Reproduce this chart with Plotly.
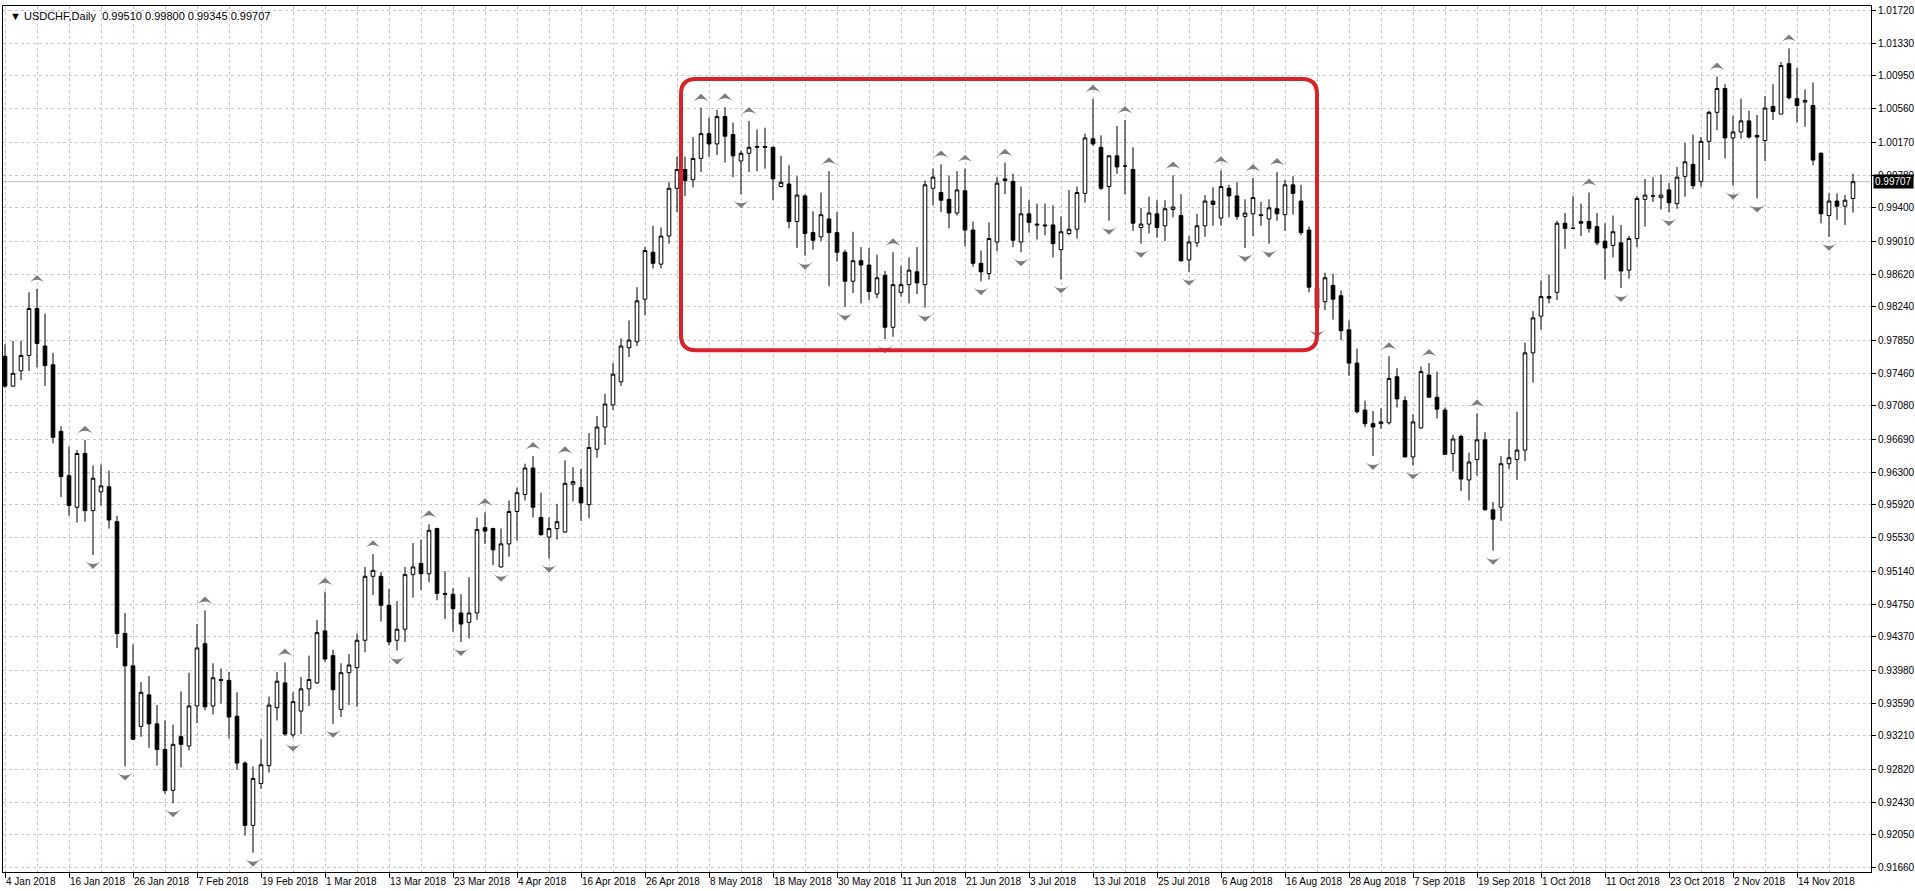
import plotly.graph_objects as go

symbol = "USDCHF,Daily"

# daily bars, 4 Jan 2018 .. 23 Nov 2018 (one value per trading day)
opens = [
    0.9766, 0.9731, 0.9749, 0.9767, 0.9822, 0.9778, 0.9756, 0.9678, 0.9626, 0.9589,
    0.9652, 0.9585, 0.9607, 0.9613, 0.9572, 0.9441, 0.9403, 0.9332, 0.9369, 0.9335,
    0.9305, 0.9257, 0.9320, 0.9309, 0.9356, 0.9429, 0.9356, 0.9387, 0.9386, 0.9344,
    0.9289, 0.9216, 0.9265, 0.9286, 0.9354, 0.9383, 0.9322, 0.9350, 0.9376, 0.9383,
    0.9444, 0.9415, 0.9352, 0.9395, 0.9401, 0.9433, 0.9508, 0.9508, 0.9474, 0.9433,
    0.9446, 0.9510, 0.9523, 0.9511, 0.9564, 0.9488, 0.9487, 0.9465, 0.9454, 0.9465,
    0.9565, 0.9564, 0.9519, 0.9546, 0.9584, 0.9604, 0.9635, 0.9577, 0.9554, 0.9564,
    0.9560, 0.9616, 0.9612, 0.9592, 0.9657, 0.9683, 0.9709, 0.9736, 0.9776, 0.9783,
    0.9833, 0.9888, 0.9874, 0.9907, 0.9963, 0.9985, 0.9973, 0.9998, 1.0027, 1.0015,
    1.0047, 1.0026, 0.9995, 1.0004, 1.0011, 1.0012, 1.0011, 0.9965, 0.9968, 0.9924,
    0.9954, 0.9911, 0.9906, 0.9927, 0.9911, 0.9888, 0.9854, 0.9878, 0.9873, 0.9839,
    0.9861, 0.9800, 0.9841, 0.9850, 0.9865, 0.9850, 0.9963, 0.9958, 0.9950, 0.9934,
    0.9960, 0.9914, 0.9875, 0.9863, 0.9900, 0.9974, 0.9971, 0.9900, 0.9933, 0.9921,
    0.9920, 0.9920, 0.9891, 0.9910, 0.9915, 0.9957, 1.0021, 1.0011, 0.9965, 1.0001,
    0.9989, 0.9985, 0.9917, 0.9921, 0.9933, 0.9919, 0.9938, 0.9931, 0.9879, 0.9899,
    0.9919, 0.9948, 0.9928, 0.9963, 0.9954, 0.9930, 0.9933, 0.9932, 0.9927, 0.9939,
    0.9932, 0.9967, 0.9948, 0.9914, 0.9846, 0.9830, 0.9849, 0.9837, 0.9797, 0.9758,
    0.9703, 0.9687, 0.9687, 0.9688, 0.9742, 0.9714, 0.9648, 0.9682, 0.9744, 0.9718,
    0.9703, 0.9652, 0.9672, 0.9621, 0.9645, 0.9668, 0.9586, 0.9589, 0.9640, 0.9645,
    0.9656, 0.9770, 0.9813, 0.9834, 0.9841, 0.9922, 0.9916, 0.9924, 0.9924, 0.9918,
    0.9901, 0.9896, 0.9899, 0.9867, 0.9904, 0.9950, 0.9954, 0.9952, 0.9961, 0.9945,
    0.9977, 0.9991, 0.9971, 1.0018, 1.0052, 1.0080, 1.0022, 1.0029, 1.0042, 1.0025,
    1.0019, 1.0059, 1.0050, 1.0109, 1.0068, 1.0064, 1.0060, 1.0004, 0.9931, 0.9948,
    0.9942, 0.99510,
]
highs = [
    0.9780, 0.9784, 0.9784, 0.9841, 0.9845, 0.9816, 0.9770, 0.9684, 0.9660, 0.9656,
    0.9668, 0.9638, 0.9639, 0.9632, 0.9579, 0.9465, 0.9428, 0.9384, 0.9391, 0.9357,
    0.9339, 0.9334, 0.9373, 0.9395, 0.9452, 0.9468, 0.9406, 0.9400, 0.9396, 0.9372,
    0.9291, 0.9285, 0.9317, 0.9367, 0.9396, 0.9407, 0.9372, 0.9390, 0.9415, 0.9457,
    0.9490, 0.9422, 0.9406, 0.9417, 0.9441, 0.9519, 0.9534, 0.9513, 0.9493, 0.9479,
    0.9519, 0.9547, 0.9551, 0.9569, 0.9565, 0.9514, 0.9494, 0.9487, 0.9507, 0.9577,
    0.9583, 0.9565, 0.9564, 0.9597, 0.9612, 0.9640, 0.9649, 0.9606, 0.9577, 0.9593,
    0.9644, 0.9636, 0.9634, 0.9676, 0.9696, 0.9722, 0.9758, 0.9787, 0.9808, 0.9847,
    0.9894, 0.9919, 0.9917, 0.9970, 1.0000, 1.0000, 1.0023, 1.00575, 1.0046, 1.0055,
    1.0058, 1.0040, 1.0007, 1.0042, 1.0032, 1.0034, 1.0012, 1.0001, 0.9990, 0.9977,
    0.9956, 0.9936, 0.9958, 0.9983, 0.9935, 0.9891, 0.9912, 0.9894, 0.9893, 0.9885,
    0.9866, 0.9888, 0.9872, 0.9882, 0.9894, 0.9972, 0.9986, 0.9991, 0.9978, 0.9983,
    0.9986, 0.9924, 0.9890, 0.9923, 0.9976, 0.9993, 0.9980, 0.9965, 0.9949, 0.9945,
    0.9945, 0.9943, 0.9930, 0.9961, 0.9965, 1.0027, 1.0068, 1.0025, 1.0002, 1.0036,
    1.0043, 1.0011, 0.9940, 0.9953, 0.9949, 0.9949, 0.9978, 0.9956, 0.9907, 0.9933,
    0.9955, 0.9964, 0.9984, 0.9967, 0.9970, 0.9950, 0.9975, 0.9947, 0.9950, 0.9982,
    0.9973, 0.9977, 0.9967, 0.9918, 0.9850, 0.9864, 0.9863, 0.9843, 0.9808, 0.9775,
    0.9714, 0.9702, 0.9705, 0.9766, 0.9752, 0.9719, 0.9698, 0.9754, 0.9758, 0.9748,
    0.9706, 0.9674, 0.9674, 0.9653, 0.9699, 0.9677, 0.9595, 0.9649, 0.9669, 0.9701,
    0.9782, 0.9819, 0.9855, 0.9862, 0.9925, 0.9934, 0.9954, 0.9945, 0.9958, 0.9934,
    0.9922, 0.9931, 0.9920, 0.9907, 0.9954, 0.9974, 0.9976, 0.9979, 0.9969, 0.9988,
    1.0016, 1.0026, 1.0023, 1.0054, 1.0094, 1.0085, 1.0048, 1.0068, 1.0054, 1.0049,
    1.0071, 1.0085, 1.0111, 1.0127, 1.0104, 1.0079, 1.0087, 1.0005, 0.9957, 0.9957,
    0.9955, 0.99800,
]
lows = [
    0.9729, 0.9730, 0.9738, 0.9749, 0.9753, 0.9731, 0.9664, 0.9601, 0.9579, 0.9571,
    0.9572, 0.9533, 0.9591, 0.9564, 0.9424, 0.9285, 0.9316, 0.9320, 0.9307, 0.9286,
    0.9253, 0.9242, 0.9284, 0.9304, 0.9336, 0.9351, 0.9346, 0.9359, 0.9318, 0.9281,
    0.9204, 0.9184, 0.9259, 0.9278, 0.9339, 0.9321, 0.9319, 0.9323, 0.9356, 0.9382,
    0.9408, 0.9335, 0.9343, 0.9357, 0.9355, 0.9419, 0.9486, 0.9455, 0.9427, 0.9421,
    0.9431, 0.9483, 0.9492, 0.9501, 0.9480, 0.9458, 0.9443, 0.9431, 0.9435, 0.9457,
    0.9546, 0.9521, 0.9518, 0.9531, 0.9550, 0.9597, 0.9577, 0.9555, 0.9529, 0.9551,
    0.9559, 0.9596, 0.9573, 0.9576, 0.9647, 0.9662, 0.9703, 0.9731, 0.9765, 0.9778,
    0.9814, 0.9869, 0.9869, 0.9898, 0.9935, 0.9954, 0.9964, 0.9982, 1.0000, 1.0002,
    0.9993, 0.9976, 0.9956, 0.9982, 0.9983, 0.9986, 0.9949, 0.9964, 0.9916, 0.9893,
    0.9884, 0.9891, 0.9901, 0.9848, 0.9877, 0.9824, 0.9840, 0.9828, 0.9832, 0.9834,
    0.9786, 0.9789, 0.9836, 0.9828, 0.9839, 0.9823, 0.9943, 0.9935, 0.9916, 0.9931,
    0.9895, 0.9871, 0.9854, 0.9856, 0.9889, 0.9956, 0.9894, 0.9888, 0.9911, 0.9903,
    0.9908, 0.9882, 0.9856, 0.9908, 0.9904, 0.9946, 1.0013, 0.9961, 0.9925, 0.9980,
    0.9956, 0.9913, 0.9898, 0.9910, 0.9905, 0.9901, 0.9929, 0.9877, 0.9865, 0.9894,
    0.9906, 0.9919, 0.9919, 0.9929, 0.9926, 0.9893, 0.9907, 0.9919, 0.9898, 0.9925,
    0.9913, 0.9932, 0.9908, 0.9841, 0.9804, 0.9820, 0.9809, 0.9785, 0.9743, 0.9699,
    0.9683, 0.9649, 0.9681, 0.9686, 0.9706, 0.9647, 0.9638, 0.9681, 0.9718, 0.9693,
    0.9650, 0.9631, 0.9608, 0.9597, 0.9626, 0.9585, 0.9538, 0.9573, 0.9634, 0.9621,
    0.9643, 0.9735, 0.9797, 0.9828, 0.9832, 0.9892, 0.9915, 0.9907, 0.9911, 0.9896,
    0.9856, 0.9882, 0.9846, 0.9857, 0.9894, 0.9918, 0.9947, 0.9938, 0.9935, 0.9939,
    0.9953, 0.9962, 0.9965, 0.9996, 1.0031, 0.9998, 0.9966, 1.0021, 1.0021, 0.9951,
    0.9995, 1.0043, 1.0050, 1.0067, 1.0040, 1.0035, 0.9990, 0.9922, 0.9906, 0.9926,
    0.9920, 0.99345,
]
closes = [
    0.9731, 0.9746, 0.9767, 0.9822, 0.9781, 0.9755, 0.9671, 0.9625, 0.9591, 0.9652,
    0.9585, 0.9623, 0.9614, 0.9574, 0.9441, 0.9403, 0.9317, 0.9372, 0.9335, 0.9305,
    0.9257, 0.9311, 0.9311, 0.9356, 0.9424, 0.9355, 0.9389, 0.9386, 0.9343, 0.9289,
    0.9216, 0.9271, 0.9287, 0.9357, 0.9385, 0.9323, 0.9361, 0.9376, 0.9387, 0.9442,
    0.9411, 0.9375, 0.9395, 0.9404, 0.9433, 0.9508, 0.9515, 0.9474, 0.9431, 0.9446,
    0.9510, 0.9519, 0.9511, 0.9562, 0.9488, 0.9487, 0.9470, 0.9452, 0.9465, 0.9563,
    0.9561, 0.9539, 0.9546, 0.9584, 0.9606, 0.9635, 0.9589, 0.9557, 0.9564, 0.9572,
    0.9617, 0.9619, 0.9594, 0.9659, 0.9683, 0.9710, 0.9745, 0.9778, 0.9785, 0.9831,
    0.9890, 0.9875, 0.9907, 0.9963, 0.9985, 0.9972, 0.9998, 1.0027, 1.0015, 1.0047,
    1.0024, 1.0001, 1.0004, 1.0011, 1.0012, 1.0011, 0.9974, 0.9970, 0.9924, 0.9955,
    0.9910, 0.9902, 0.9932, 0.9911, 0.9888, 0.9854, 0.9878, 0.9873, 0.9842, 0.9858,
    0.9800, 0.9850, 0.9850, 0.9867, 0.9852, 0.9967, 0.9976, 0.9949, 0.9934, 0.9961,
    0.9914, 0.9875, 0.9865, 0.9904, 0.9969, 0.9972, 0.9902, 0.9933, 0.9923, 0.9920,
    0.9919, 0.9898, 0.9912, 0.9915, 0.9958, 1.0022, 1.0015, 0.9963, 1.0001, 0.9988,
    0.9989, 0.9922, 0.9921, 0.9934, 0.9917, 0.9939, 0.9941, 0.9878, 0.9900, 0.9919,
    0.9948, 0.9944, 0.9965, 0.9954, 0.9930, 0.9934, 0.9952, 0.9931, 0.9940, 0.9933,
    0.9967, 0.9957, 0.9911, 0.9847, 0.9822, 0.9858, 0.9833, 0.9796, 0.9758, 0.9701,
    0.9687, 0.9683, 0.9689, 0.9740, 0.9716, 0.9648, 0.9689, 0.9748, 0.9718, 0.9704,
    0.9651, 0.9669, 0.9622, 0.9642, 0.9668, 0.9586, 0.9575, 0.9640, 0.9647, 0.9656,
    0.9770, 0.9811, 0.9836, 0.9836, 0.9922, 0.9916, 0.9916, 0.9922, 0.9916, 0.9899,
    0.9893, 0.9912, 0.9866, 0.9904, 0.9951, 0.9955, 0.9954, 0.9955, 0.9946, 0.9976,
    0.9994, 0.9966, 1.0018, 1.0052, 1.0080, 1.0022, 1.0029, 1.0042, 1.0023, 1.0023,
    1.0057, 1.0053, 1.0107, 1.0069, 1.0060, 1.0066, 0.9996, 0.9933, 0.9948, 0.9942,
    0.9949, 0.99707,
]

# bars marked by the fractals indicator
up_fractal_bars = [4, 10, 25, 35, 40, 46, 53, 60, 66, 70, 87, 90, 93, 103, 111, 117,
                   120, 125, 136, 140, 146, 152, 156, 159, 173, 178, 184, 198, 214, 223]
down_fractal_bars = [11, 15, 21, 31, 36, 41, 49, 57, 62, 68, 92, 100, 105, 110, 115, 122,
                     127, 132, 138, 142, 148, 155, 158, 164, 171, 176, 186, 202, 208, 216,
                     219, 228]

date_labels = ["4 Jan 2018", "16 Jan 2018", "26 Jan 2018", "7 Feb 2018", "19 Feb 2018",
               "1 Mar 2018", "13 Mar 2018", "23 Mar 2018", "4 Apr 2018", "16 Apr 2018",
               "26 Apr 2018", "8 May 2018", "18 May 2018", "30 May 2018", "11 Jun 2018",
               "21 Jun 2018", "3 Jul 2018", "13 Jul 2018", "25 Jul 2018", "6 Aug 2018",
               "16 Aug 2018", "28 Aug 2018", "7 Sep 2018", "19 Sep 2018", "1 Oct 2018",
               "11 Oct 2018", "23 Oct 2018", "2 Nov 2018", "14 Nov 2018"]

price_ticks = [1.01720, 1.01330, 1.00950, 1.00560, 1.00170, 0.99780, 0.99400, 0.99010,
               0.98620, 0.98240, 0.97850, 0.97460, 0.97080, 0.96690, 0.96300, 0.95920,
               0.95530, 0.95140, 0.94750, 0.94370, 0.93980, 0.93590, 0.93210, 0.92820,
               0.92430, 0.92050, 0.91660]

# highlighted range (bar index / price)
box_left, box_right = 84.5, 164.0
box_top, box_bottom = 1.0091, 0.9773

W, H = 1915, 891
M = dict(l=3, r=44, t=6, b=19)
y_range = [0.91613, 1.01767]
x_range = [-0.25, 233.25]
px_y = (y_range[1] - y_range[0]) / (H - M["t"] - M["b"])   # price per pixel
px_x = (x_range[1] - x_range[0]) / (W - M["l"] - M["r"])   # bars per pixel

bars = list(range(len(opens)))
grid = "#c8c8c8"
font = "Liberation Sans"

fig = go.Figure()

fig.add_trace(go.Candlestick(
    x=bars, open=opens, high=highs, low=lows, close=closes,
    increasing=dict(line=dict(color="black", width=1), fillcolor="white"),
    decreasing=dict(line=dict(color="black", width=1), fillcolor="black"),
    whiskerwidth=0, hoverinfo="skip",
))

# fractal arrows sit a few pixels beyond the bar extreme
fig.add_trace(go.Scatter(
    x=up_fractal_bars, y=[highs[i] + 14 * px_y for i in up_fractal_bars],
    mode="markers", hoverinfo="skip",
    marker=dict(symbol="arrow-wide", angle=0, size=12, color="#7d7d7d",
                line=dict(width=0)),
))
fig.add_trace(go.Scatter(
    x=down_fractal_bars, y=[lows[i] - 14 * px_y for i in down_fractal_bars],
    mode="markers", hoverinfo="skip",
    marker=dict(symbol="arrow-wide", angle=180, size=12, color="#7d7d7d",
                line=dict(width=0)),
))

last = closes[-1]
fig.add_shape(type="line", xref="paper", x0=0, x1=1, y0=last, y1=last,
              line=dict(color="#c0c0c0", width=1), layer="below")

# rounded rectangle
rx, ry = 15 * px_x, 15 * px_y
x0, x1, y0, y1 = box_left, box_right, box_bottom, box_top
path = (f"M{x0 + rx},{y1} L{x1 - rx},{y1} Q{x1},{y1} {x1},{y1 - ry} "
        f"L{x1},{y0 + ry} Q{x1},{y0} {x1 - rx},{y0} "
        f"L{x0 + rx},{y0} Q{x0},{y0} {x0},{y0 + ry} "
        f"L{x0},{y1 - ry} Q{x0},{y1} {x0 + rx},{y1} Z")
fig.add_shape(type="path", path=path, xref="x", yref="y",
              line=dict(color="#d8232a", width=4), layer="above")

fig.add_annotation(
    xref="paper", yref="paper", x=0, y=1, xanchor="left", yanchor="top",
    xshift=5, yshift=-2, showarrow=False,
    text=f"▼ {symbol}  {opens[-1]:.5f} {highs[-1]:.5f} {lows[-1]:.5f} {closes[-1]:.5f}",
    font=dict(family=font, size=11, color="black"),
)
fig.add_annotation(
    xref="paper", yref="y", x=1, y=last, xanchor="left", yanchor="middle",
    xshift=2, showarrow=False, text=f"{last:.5f}", bgcolor="black", borderpad=1,
    font=dict(family=font, size=10, color="white"),
)

fig.update_layout(
    width=W, height=H, margin=M, template="none",
    paper_bgcolor="white", plot_bgcolor="white", showlegend=False,
    boxgap=0.35,
    xaxis=dict(
        range=x_range, rangeslider=dict(visible=False),
        tickmode="array", tickvals=bars[::8][:len(date_labels)], ticktext=date_labels,
        tickangle=0, ticks="outside", ticklen=5, tickcolor="black",
        ticklabelposition="outside right",
        tickfont=dict(family=font, size=10, color="black"),
        showgrid=True, gridcolor=grid, griddash="3px,3px", gridwidth=1,
        minor=dict(tickmode="array", tickvals=list(range(4, 236, 8)), ticks="",
                   showgrid=True, gridcolor=grid, griddash="3px,3px", gridwidth=1),
        showline=True, linecolor="black", linewidth=1, mirror=True, zeroline=False,
    ),
    yaxis=dict(
        range=y_range, side="right",
        tickmode="array", tickvals=price_ticks, ticktext=[f"{v:.5f}" for v in price_ticks],
        ticks="outside", ticklen=4, tickcolor="black",
        tickfont=dict(family=font, size=10, color="black"),
        showgrid=True, gridcolor=grid, griddash="3px,3px", gridwidth=1,
        showline=True, linecolor="black", linewidth=1, mirror=True, zeroline=False,
    ),
)

# the page is exactly the figure size: drop the default body margin
fig.write_html("out.html", config=dict(displayModeBar=False),
               post_script="document.body.style.margin='0';"
                           "document.body.style.overflow='hidden';")
